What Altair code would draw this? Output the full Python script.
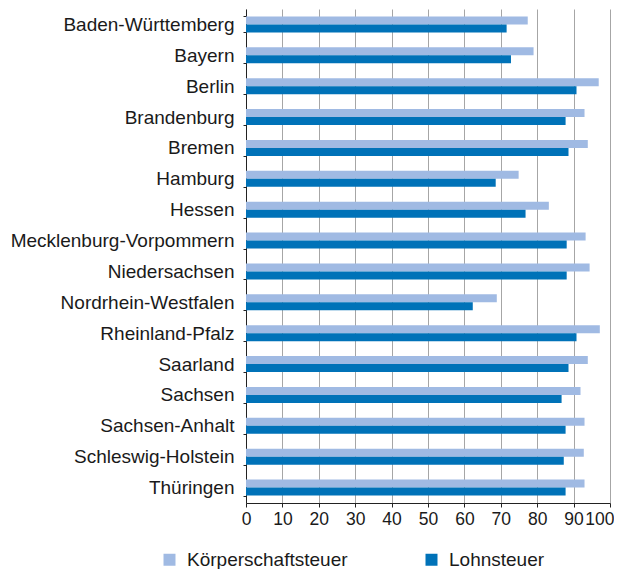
import altair as alt
import pandas as pd

laender = ["Baden-Württemberg", "Bayern", "Berlin", "Brandenburg", "Bremen", "Hamburg",
           "Hessen", "Mecklenburg-Vorpommern", "Niedersachsen", "Nordrhein-Westfalen",
           "Rheinland-Pfalz", "Saarland", "Sachsen", "Sachsen-Anhalt",
           "Schleswig-Holstein", "Thüringen"]
koerperschaftsteuer = [77.4, 79.0, 96.9, 93.0, 93.9, 74.9, 83.2, 93.3, 94.4, 68.9,
                       97.2, 93.9, 91.9, 93.0, 92.8, 93.0]
lohnsteuer = [71.6, 72.8, 90.8, 87.8, 88.6, 68.6, 76.8, 88.1, 88.1, 62.3,
              90.8, 88.6, 86.7, 87.8, 87.3, 87.8]
series = ["Körperschaftsteuer", "Lohnsteuer"]
colors = ["#a0bae3", "#0072b8"]
x_ticks = [0, 10, 20, 30, 40, 50, 60, 70, 80, 90, 100]

rows = []
for land, k, l in zip(laender, koerperschaftsteuer, lohnsteuer):
    rows.append({"Land": land, "Steuer": series[0], "Wert": k})
    rows.append({"Land": land, "Steuer": series[1], "Wert": l})
df = pd.DataFrame(rows)

FONT = "Liberation Sans"
FS = 19

chart = alt.Chart(df).mark_bar().encode(
    y=alt.Y("Land:N", sort=laender,
            scale=alt.Scale(paddingInner=0.482, paddingOuter=0.241),
            axis=alt.Axis(title=None, labelFontSize=FS, labelFont=FONT, labelColor="#1a1a1a",
                          labelPadding=9, tickSize=3, tickBand="extent", tickColor="#222",
                          domainColor="#222", grid=False, labelLimit=300)),
    yOffset=alt.YOffset("Steuer:N", sort=series, scale=alt.Scale(paddingInner=0, paddingOuter=0)),
    x=alt.X("Wert:Q", scale=alt.Scale(domain=[0, 100], nice=False),
            axis=alt.Axis(title=None, values=x_ticks, labelFontSize=17.5, labelFont=FONT,
                          labelColor="#1a1a1a", labelPadding=3, tickSize=4, tickColor="#222",
                          domainColor="#222", grid=True, gridColor="#a6a6a6", gridWidth=1,
                          labelFlush=False, labelOverlap=False,
                          labelAlign=alt.condition("datum.value == 100", alt.value("right"), alt.value("center")),
                          labelOffset=alt.condition("datum.value == 100", alt.value(4), alt.value(0)))),
    color=alt.Color("Steuer:N", sort=series,
                    scale=alt.Scale(domain=series, range=colors),
                    legend=alt.Legend(title=None, orient="none", legendX=-86, legendY=541,
                                      direction="horizontal", columns=2, columnPadding=74,
                                      symbolType="square", symbolSize=144, symbolStrokeWidth=0,
                                      labelFontSize=FS, labelFont=FONT, labelColor="#1a1a1a",
                                      labelOffset=8, labelLimit=300)),
).properties(
    width=364, height=494,
    autosize=alt.AutoSizeParams(type="none"),
    padding={"left": 238, "top": 1, "right": 4, "bottom": 66},
).configure_view(stroke=None).configure_axis(domainWidth=1)

chart.save("out.html", embed_options={"renderer": "svg", "actions": False})
